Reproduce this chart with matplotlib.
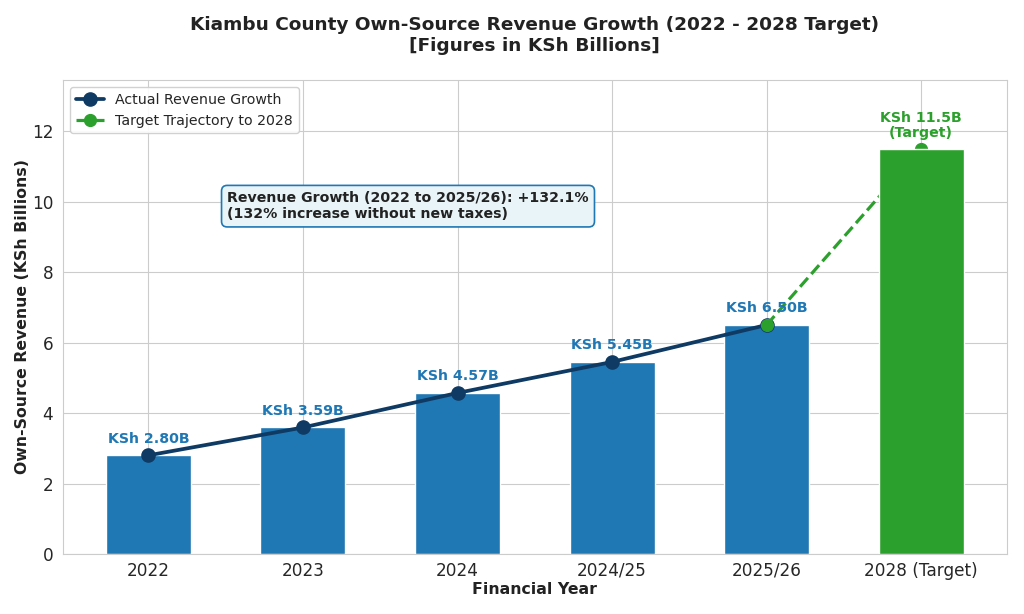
import numpy as np
import matplotlib.pyplot as plt
import seaborn as sns

years = ['2022', '2023', '2024', '2024/25', '2025/26', '2028 (Target)']
revenue = [2.80, 3.59, 4.57, 5.45, 6.50, 11.5]
actual_labels = ['KSh 2.80B', 'KSh 3.59B', 'KSh 4.57B', 'KSh 5.45B', 'KSh 6.50B']
target_label = 'KSh 11.5B\n(Target)'

BLUE = '#1f77b4'
NAVY = '#0e3a63'
GREEN = '#2ca02c'

sns.set_style('whitegrid')
plt.rcParams['font.family'] = ['DejaVu Sans']

fig, ax = plt.subplots(figsize=(10.24, 6.14), dpi=100)

x = np.arange(len(years))
n_act = len(actual_labels)

ax.bar(x[:n_act], revenue[:n_act], width=0.55, color=BLUE,
       edgecolor='white', zorder=2)

# actual line + target trajectory
ax.plot(x[:n_act], revenue[:n_act], color=NAVY, linewidth=2.7, marker='o',
        markersize=9.5, label='Actual Revenue Growth', zorder=3)
ax.plot(x[n_act - 1:], revenue[n_act - 1:], color=GREEN, linewidth=2.3,
        linestyle='--', marker='o', markersize=8.5,
        label='Target Trajectory to 2028', zorder=3)

# target bar drawn over its trajectory line
ax.bar(x[n_act:], revenue[n_act:], width=0.55, color=GREEN,
       edgecolor='white', zorder=3.5)

for xi, val, lab in zip(x[:n_act], revenue[:n_act], actual_labels):
    ax.annotate(lab, (xi, val), xytext=(0, 7), textcoords='offset points',
                ha='center', va='bottom', fontsize=10.2, fontweight='bold',
                color=BLUE, zorder=5)
ax.annotate(target_label, (x[-1], revenue[-1]), xytext=(0, 6),
            textcoords='offset points', ha='center', va='bottom',
            fontsize=10.2, fontweight='bold', color=GREEN, linespacing=1.1,
            zorder=5)

growth = (revenue[n_act - 1] - revenue[0]) / revenue[0] * 100
ax.text(0.51, 9.87,
        f'Revenue Growth (2022 to 2025/26): +{growth:.1f}%\n'
        f'({growth:.0f}% increase without new taxes)',
        ha='left', va='center', fontsize=10.2, fontweight='bold',
        color='#222222', zorder=6,
        bbox=dict(boxstyle='round,pad=0.4', facecolor='#e8f4f8',
                  edgecolor=BLUE, linewidth=1.2))

ax.set_ylim(0, max(revenue) * 1.17)
ax.set_xticks(x)
ax.set_xticklabels(years, fontsize=12.2)
ax.tick_params(axis='x', pad=2)
ax.tick_params(axis='y', labelsize=12.2)
ax.set_xlabel('Financial Year', fontsize=11.3, fontweight='bold',
              color='#222222', labelpad=2)
ax.set_ylabel('Own-Source Revenue (KSh Billions)', fontsize=11.3,
              fontweight='bold', color='#222222', labelpad=1)
ax.set_title('Kiambu County Own-Source Revenue Growth (2022 - 2028 Target)\n'
             '[Figures in KSh Billions]', fontsize=13.3, fontweight='bold',
             color='#222222', pad=21)
ax.legend(loc='upper left', fontsize=10.2, framealpha=0.9)

fig.subplots_adjust(left=0.0615, right=0.983, top=0.870, bottom=0.0977)
plt.savefig('out.png', dpi=100)
